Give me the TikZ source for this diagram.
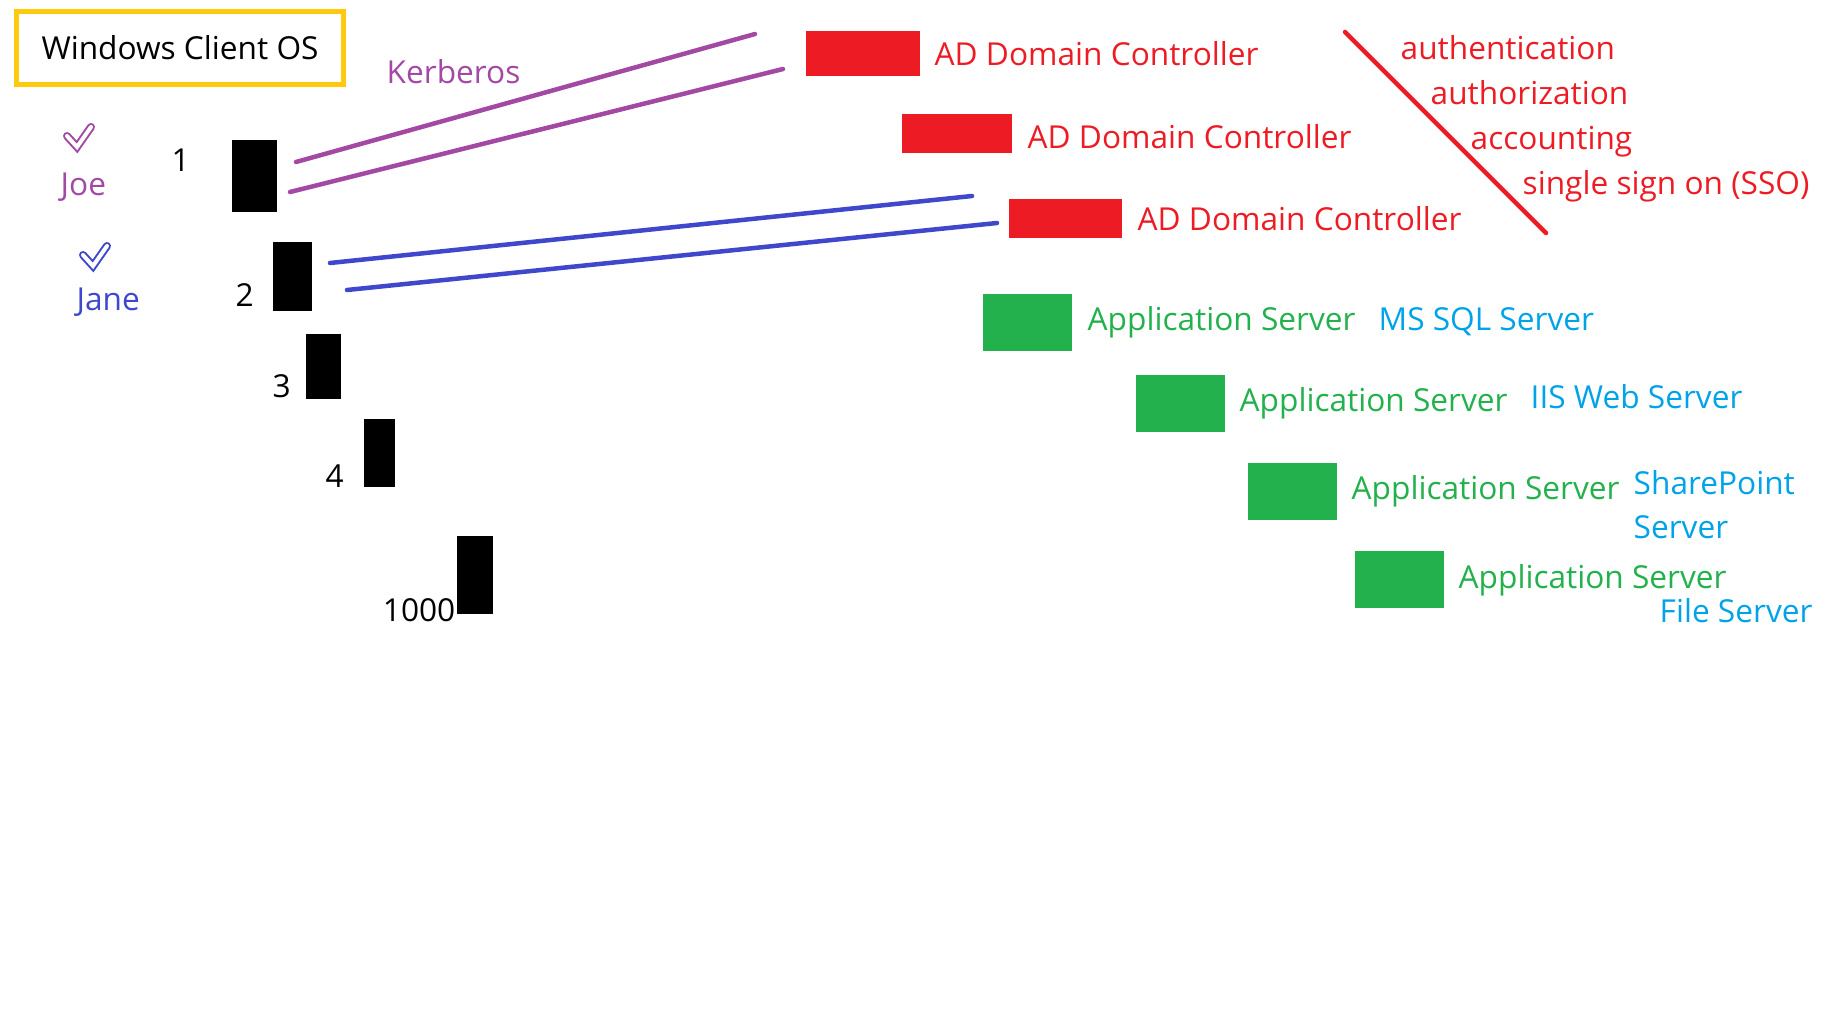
\documentclass[tikz,border=0pt]{standalone}
\usepackage{fontspec}
\setmainfont{Open Sans}
\usepackage{tkz-euclide}

\definecolor{kerb}{HTML}{A349A4}
\definecolor{janeblue}{HTML}{3F48CC}
\definecolor{adred}{HTML}{ED1C24}
\definecolor{appgreen}{HTML}{22B14C}
\definecolor{svcblue}{HTML}{00A2E8}
\definecolor{osyellow}{HTML}{FFC90E}

\tikzset{
    txt/.style={inner sep=0, anchor=base west, font=\fontsize{9}{11}\selectfont},
    osbox/.style={draw=osyellow, line width=0.05cm, inner sep=0, minimum width=3.27cm, minimum height=0.73cm, font=\fontsize{9}{11}\selectfont},
    pc/.style={fill=black, inner sep=0},
    dc/.style={fill=adred, inner sep=0, minimum height=0.39cm},
    app/.style={fill=appgreen, inner sep=0, minimum width=0.89cm, minimum height=0.57cm},
    tick/.style={draw=#1, line width=0.02cm, double=white, double distance=0.04cm, line cap=round, line join=miter},
    link/.style={color=#1, line width=0.045cm, line cap=round}
}

\begin{document}
\begin{tikzpicture}
    \useasboundingbox (0,0) rectangle (18.33,-10.22);
    \node[osbox] (os) at (1.80,-0.48) {Windows Client OS};
    \node[txt, kerb] (kerberos) at (3.86,-0.835) {Kerberos};
    % users
    \draw[tick=kerb] (0.67,-1.36) -- (0.77,-1.47) -- (0.91,-1.27);
    \node[txt, kerb] (joe) at (0.60,-1.955) {Joe};
    \draw[tick=janeblue] (0.83,-2.55) -- (0.93,-2.66) -- (1.07,-2.46);
    \node[txt, janeblue] (jane) at (0.76,-3.105) {Jane};
    % clients
    \node[pc, minimum width=0.45cm, minimum height=0.72cm] (c1) at (2.545,-1.76) {};
    \node[pc, minimum width=0.39cm, minimum height=0.69cm] (c2) at (2.925,-2.765) {};
    \node[pc, minimum width=0.35cm, minimum height=0.65cm] (c3) at (3.235,-3.665) {};
    \node[pc, minimum width=0.31cm, minimum height=0.68cm] (c4) at (3.795,-4.53) {};
    \node[pc, minimum width=0.36cm, minimum height=0.78cm] (c5) at (4.75,-5.75) {};
    \node[txt] (n1) at (1.71,-1.715) {1};
    \node[txt] (n2) at (2.35,-3.065) {2};
    \node[txt] (n3) at (2.72,-3.975) {3};
    \node[txt] (n4) at (3.25,-4.875) {4};
    \node[txt, anchor=base east] (n5) at (4.56,-6.215) {1000};
    % domain controllers
    \node[dc, minimum width=1.14cm, minimum height=0.45cm] (dc1) at (8.63,-0.535) {};
    \node[dc, minimum width=1.10cm] (dc2) at (9.57,-1.335) {};
    \node[dc, minimum width=1.13cm] (dc3) at (10.655,-2.185) {};
    \node[txt, adred] (ad1) at (9.34,-0.655) {AD Domain Controller};
    \node[txt, adred] (ad2) at (10.27,-1.485) {AD Domain Controller};
    \node[txt, adred] (ad3) at (11.37,-2.305) {AD Domain Controller};
    \node[txt, adred] (aaa1) at (14.00,-0.595) {authentication};
    \node[txt, adred] (aaa2) at (14.30,-1.045) {authorization};
    \node[txt, adred] (aaa3) at (14.70,-1.495) {accounting};
    \node[txt, adred] (aaa4) at (15.22,-1.945) {single sign on (SSO)};
    % application servers
    \node[app] (g1) at (10.275,-3.225) {};
    \node[app] (g2) at (11.805,-4.035) {};
    \node[app] (g3) at (12.925,-4.915) {};
    \node[app] (g4) at (13.995,-5.795) {};
    \node[txt, appgreen] (as1) at (10.87,-3.30) {Application Server};
    \node[txt, appgreen] (as2) at (12.39,-4.11) {Application Server};
    \node[txt, appgreen] (as3) at (13.51,-4.99) {Application Server};
    \node[txt, appgreen] (as4) at (14.58,-5.88) {Application Server};
    \node[txt, svcblue] (sql) at (13.78,-3.30) {MS SQL Server};
    \node[txt, svcblue] (iis) at (15.30,-4.085) {IIS Web Server};
    \node[txt, svcblue] (sp) at (16.33,-4.945) {SharePoint};
    \node[txt, svcblue] (sp2) at (16.33,-5.385) {Server};
    \node[txt, svcblue] (fs) at (16.59,-6.225) {File Server};
    % lines
    \tkzDefPoints{2.96/-1.62/K1, 7.55/-0.34/K2, 2.90/-1.92/K3, 7.83/-0.69/K4}
    \tkzDefPoints{3.30/-2.63/J1, 9.72/-1.96/J2, 3.47/-2.90/J3, 9.97/-2.23/J4}
    \tkzDefPoints{13.45/-0.32/R1, 15.46/-2.33/R2}
    \tkzDrawSegments[link=kerb](K1,K2 K3,K4)
    \tkzDrawSegments[link=janeblue](J1,J2 J3,J4)
    \tkzDrawSegment[link=adred](R1,R2)
\end{tikzpicture}
\end{document}
